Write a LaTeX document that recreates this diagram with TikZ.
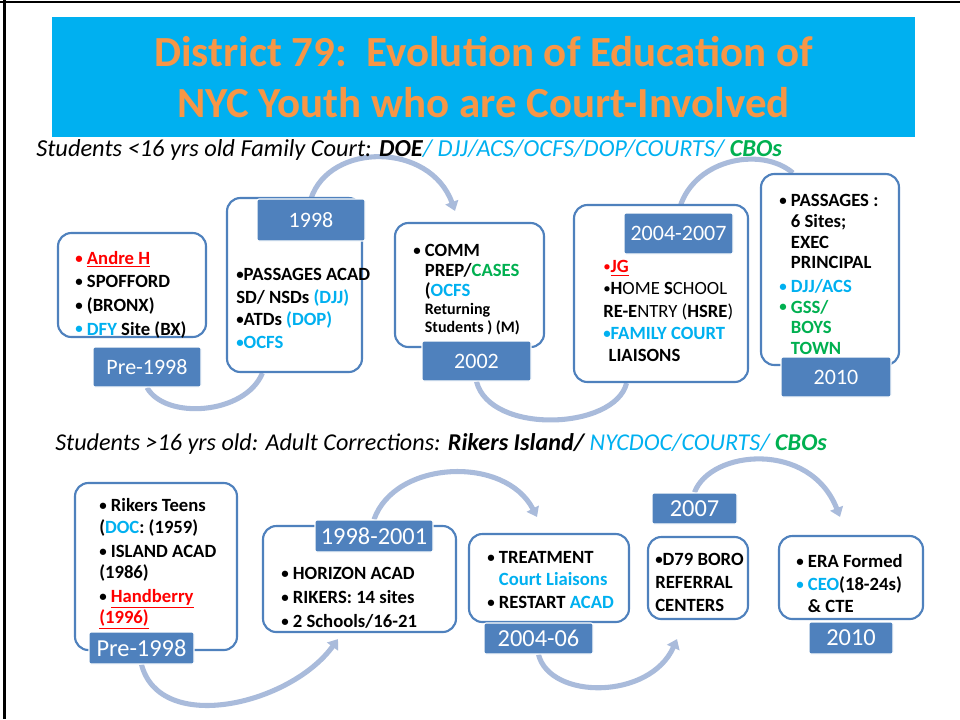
\documentclass[tikz,border=0pt]{standalone}
\usepackage{fontspec}
\setmainfont{Carlito}
\usetikzlibrary{arrows.meta,backgrounds}
\definecolor{bannerblue}{HTML}{00B0F0}
\definecolor{titleorange}{HTML}{F79646}
\definecolor{frameblue}{HTML}{4F81BD}
\definecolor{arcblue}{HTML}{A9BBDB}
\definecolor{agency}{HTML}{00B0F0}
\definecolor{cbo}{HTML}{00B050}
\newcommand{\cyt}[1]{\textcolor{agency}{#1}}
\newcommand{\grt}[1]{\textcolor{cbo}{#1}}
\newcommand{\rdt}[1]{\textcolor{red}{#1}}
\newcommand{\bul}{\raisebox{0.06em}{\scalebox{0.8}{•}}}
\begin{document}
\begin{tikzpicture}[x=0.75pt,y=-0.75pt]
    \tikzstyle{panel}=[draw=frameblue,line width=1.6pt,rounded corners=10pt,fill=white,inner sep=0pt]
    \tikzstyle{year}=[fill=frameblue,draw=white,line width=0.8pt,rounded corners=1.5pt,text=white,inner sep=0pt]
    \tikzstyle{items}=[anchor=west,align=left,inner sep=0pt]
    \tikzstyle{sweep}=[draw=arcblue,line width=3.8pt]
    \tikzstyle{tip}=[-{Triangle[length=7pt,width=10pt]}]
    \useasboundingbox (0,0) rectangle (960,719);
    \draw[line width=2pt] (0,2) -- (960,2);
    \draw[line width=2pt] (4.5,0) -- (4.5,719);

    % banner
    \node[fill=bannerblue,minimum width=863*0.75pt,minimum height=120*0.75pt,inner sep=0pt] (banner) at (483.5,77) {};
    \node[text=titleorange,align=center,font=\bfseries\fontsize{32.2}{38.25}\selectfont] (title) at (483.5,77.5)
        {District 79:\ \ Evolution of Education of\\NYC Youth who are Court-Involved};
    \node[anchor=west,inner sep=0pt,font=\itshape\fontsize{18.3}{18.3}\selectfont] (sub-1) at (36,150)
        {Students <16 yrs old Family Court: \textbf{DOE}\cyt{/ DJJ/ACS/OCFS/DOP/COURTS/} \grt{\textbf{CBOs}}};
    \node[anchor=west,inner sep=0pt,font=\itshape\fontsize{18.1}{18.1}\selectfont] (sub-2) at (55,444)
        {Students >16 yrs old: Adult Corrections: \textbf{Rikers Island/} \cyt{NYCDOC/COURTS/} \grt{\textbf{CBOs}}};

    % panels
    \foreach \num/\x/\y/\w/\h in {1/132/285/148/104, 2/294.5/285/135/174, 3/469.5/285/149/124,
            4/661/293.5/174/177, 5/830/269.5/138/191, 6/156/566.5/162/167, 7/359.5/579/193/106,
            8/549/578/160/88, 9/698/578/100/82, 10/851/577.5/144/83}
        \node[panel,minimum width=\w*0.75pt,minimum height=\h*0.75pt] (B-\num) at (\x,\y) {};

    % year tags
    \foreach \num/\x/\y/\w/\h/\t in {1/147/367/108/40/Pre-1998, 2/311/220/108/42/1998, 3/476.5/361/109/40/2002,
            4/678.5/233.5/109/41/2004-2007, 5/836/377/110/40/2010}
        \node[year,minimum width=\w*0.75pt,minimum height=\h*0.75pt,font=\fontsize{16.5}{16.5}\selectfont] (Y-\num) at (\x,\y) {\t};
    \foreach \num/\x/\y/\w/\h/\t in {6/141.5/648/105/32/Pre-1998, 7/374/536/118/32/1998-2001, 8/538.5/638.5/109/31/2004-06,
            9/694.5/508.5/85/31/2007, 10/851/638/84/32/2010}
        \node[year,minimum width=\w*0.75pt,minimum height=\h*0.75pt,font=\fontsize{18.3}{18.3}\selectfont] (Y-\num) at (\x,\y) {\t};

    % panel texts
    \node[items,font=\bfseries\fontsize{14}{17.7}\selectfont] (T-1) at (75,294.5)
        {\rdt{\bul\ \underline{Andre H}}\\\bul\ SPOFFORD\\\bul\ (BRONX)\\\cyt{\bul\ DFY} Site (BX)};
    \node[items,font=\bfseries\fontsize{14}{16.9}\selectfont] (T-2) at (236,308.5)
        {\bul PASSAGES ACAD\\SD/ NSDs \cyt{(DJJ)}\\\bul ATDs \cyt{(DOP)}\\\cyt{\bul OCFS}};
    \node[items,font=\bfseries\fontsize{14}{15}\selectfont] (T-3) at (413,289.5)
        {\bul\ COMM\\\hphantom{\bul\ }PREP/\grt{CASES}\\[-0.3pt]\hphantom{\bul\ }(\cyt{OCFS}\\[-1.3pt]\hphantom{\bul\ }{\fontsize{12}{13.5}\selectfont Returning}\\[-1.5pt]\hphantom{\bul\ }{\fontsize{12}{13.5}\selectfont Students ) (M)}};
    \node[items,font=\fontsize{14}{16.6}\selectfont] (T-4) at (603,311)
        {\rdt{\bul\textbf{\underline{JG}}}\\\bul\textbf{H}OME \textbf{S}CHOOL\\\textbf{RE-E}NTRY (\textbf{HSRE})\\\cyt{\textbf{\bul FAMILY COURT}}\\\hspace*{4pt}\textbf{LIAISONS}};
    \node[items,font=\bfseries\fontsize{14}{15.5}\selectfont] (T-5) at (779,274.5)
        {\bul\ PASSAGES :\\\hphantom{\bul\ }6 Sites;\\\hphantom{\bul\ }EXEC\\\hphantom{\bul\ }PRINCIPAL\\[2.2pt]\cyt{\bul\ DJJ/ACS}\\\grt{\bul\ GSS/}\\\hphantom{\bul\ }\grt{BOYS}\\\hphantom{\bul\ }\grt{TOWN}};
    \node[items,font=\bfseries\fontsize{14}{15.9}\selectfont] (T-6) at (99,564)
        {\bul\ Rikers Teens\\(\cyt{DOC}: (1959)\\[2.2pt]\bul\ ISLAND ACAD\\(1986)\\[2.2pt]\bul\ \rdt{\underline{Handberry}}\\\rdt{\underline{(1996)}}};
    \node[items,font=\bfseries\fontsize{14}{18}\selectfont] (T-7) at (281,598)
        {\bul\ HORIZON ACAD\\\bul\ RIKERS: 14 sites\\\bul\ 2 Schools/16-21};
    \node[items,font=\bfseries\fontsize{14}{15.9}\selectfont] (T-8) at (487,580)
        {\bul\ TREATMENT\\\hphantom{\bul\ }\cyt{Court Liaisons}\\[1.5pt]\bul\ RESTART \cyt{ACAD}};
    \node[items,font=\bfseries\fontsize{14}{17}\selectfont] (T-9) at (655,582.5)
        {\bul D79 BORO\\REFERRAL\\CENTERS};
    \node[items,font=\bfseries\fontsize{14}{16.4}\selectfont] (T-10) at (796,583.5)
        {\bul\ ERA Formed\\[1.2pt]\cyt{\bul\ CEO}(18-24s)\\\hphantom{\bul\ }\& CTE};

    % flow arcs behind the panels
    \begin{scope}[on background layer]
        \draw[sweep] (Y-1.south) .. controls (165,420) and (245,415) .. (B-2.-110);
        \draw[sweep,tip] (Y-2.north) .. controls (330,142) and (430,142) .. ([shift={(-14.5,-11)}]B-3.north);
        \draw[sweep] (Y-3.south) .. controls (490,435) and (615,430) .. (B-4.-111);
        \draw[sweep] (Y-4.north) .. controls (690,160) and (760,145) .. (B-5.111);

        \draw[sweep,tip] (Y-6.south) .. controls (160,735) and (290,705) .. ([shift={(-21.5,6)}]B-7.south);
        \draw[sweep,tip] (Y-7.north) .. controls (395,460) and (505,455) .. ([shift={(-12,-16)}]B-8.north);
        \draw[sweep,tip] (Y-8.south) .. controls (550,700) and (650,700) .. ([shift={(-21,19)}]B-9.south);
        \draw[sweep,tip] (Y-9.north) .. controls (710,450) and (810,440) .. ([shift={(-11,-18)}]B-10.north);
    \end{scope}
\end{tikzpicture}
\end{document}
